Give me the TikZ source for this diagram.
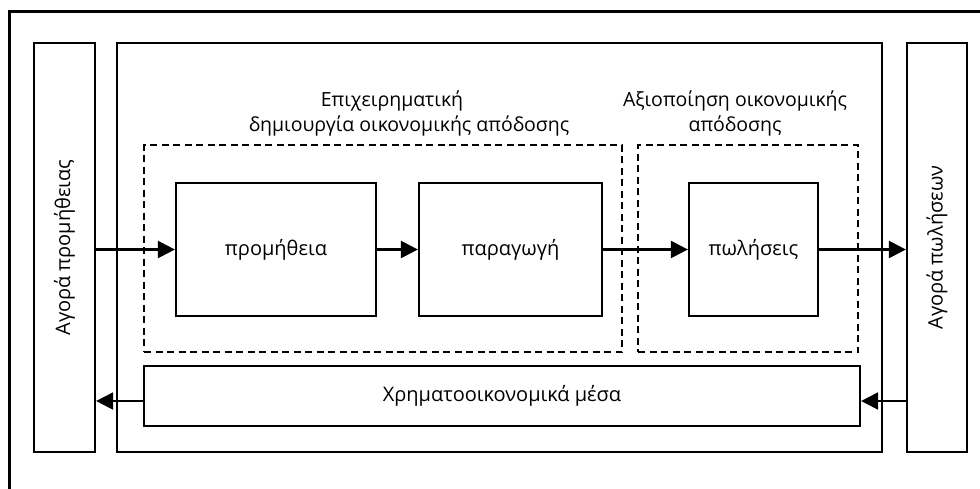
\documentclass[tikz,border=0pt]{standalone}
\usepackage{fontspec}
\setmainfont{Open Sans}
\usetikzlibrary{arrows.meta}
\begin{document}
\begin{tikzpicture}[x=1pt,y=-1pt,
  txt/.style={font=\fontsize{20}{26}\selectfont},
  box/.style={draw, line width=2.2pt, inner sep=0pt, txt},
  dbox/.style={draw, line width=2.2pt, dash pattern=on 7pt off 4.5pt, inner sep=0pt},
  lbl/.style={anchor=base, inner sep=0pt, font=\fontsize{19.5}{26}\selectfont},
  arr/.style={line width=2.2pt, -{Triangle[length=17pt,width=17pt]}}]
\useasboundingbox (0,0) rectangle (980,488);
\draw[line width=3pt] (9,490) -- (9,11) -- (982,11);
\node[box, minimum width=61pt, minimum height=409pt] (left) at (64.5,247.5) {};
\node[rotate=90, txt] (lefttext) at (left.center) {Αγορά προμήθειας};
\node[box, minimum width=765pt, minimum height=409pt] (main) at (499.5,247.5) {};
\node[box, minimum width=60pt, minimum height=409pt] (right) at (937,247.5) {};
\node[rotate=90, txt] (righttext) at (right.center) {Αγορά πωλήσεων};
\node[dbox, minimum width=478pt, minimum height=207pt] (d1) at (383,248.5) {};
\node[dbox, minimum width=220pt, minimum height=207pt] (d2) at (748,248.5) {};
\node[lbl] (t1a) at (392,106) {Επιχειρηματική};
\node[lbl] (t1b) at (409,131) {δημιουργία οικονομικής απόδοσης};
\node[lbl] (t2a) at (735,106) {Αξιοποίηση οικονομικής};
\node[lbl] (t2b) at (735,131) {απόδοσης};
\node[box, minimum width=200pt, minimum height=133pt] (promi) at (276,249.5) {προμήθεια};
\node[box, minimum width=183pt, minimum height=133pt] (parag) at (510.5,249.5) {παραγωγή};
\node[box, minimum width=129pt, minimum height=133pt] (pol) at (753.5,249.5) {πωλήσεις};
\node[box, minimum width=716pt, minimum height=60pt] (fin) at (502,396) {Χρηματοοικονομικά μέσα};
\coordinate (finE) at ([yshift=-5pt]fin.east);
\coordinate (finW) at ([yshift=-5pt]fin.west);
\draw[arr] (left.east |- promi.west) -- (promi.west);
\draw[arr] (promi.east) -- (parag.west);
\draw[arr] (parag.east) -- (pol.west);
\draw[arr] (pol.east) -- (pol.east -| right.west);
\draw[arr] (right.west |- finE) -- (finE);
\draw[arr] (finW) -- (finW -| left.east);
\end{tikzpicture}
\end{document}
